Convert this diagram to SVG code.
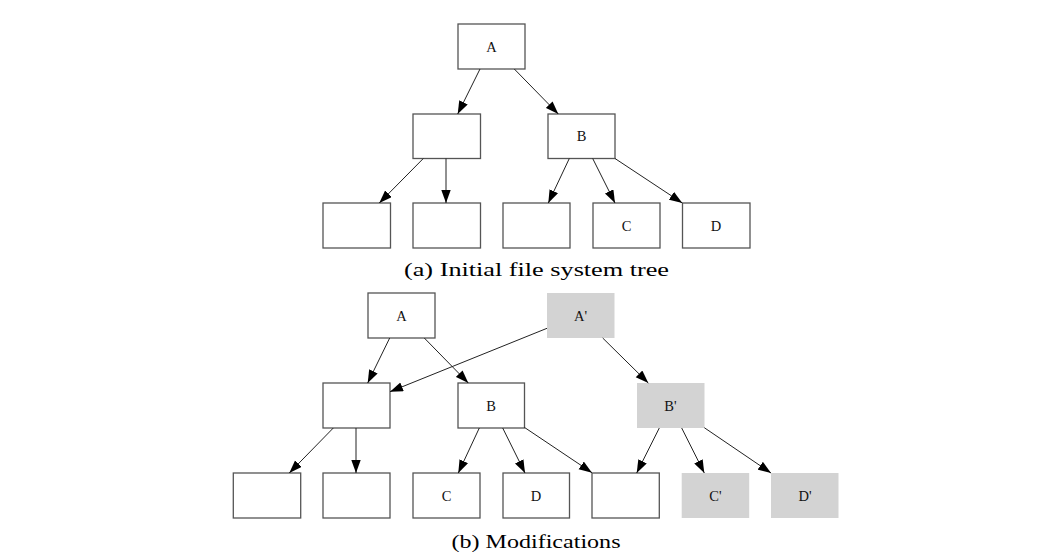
<svg xmlns="http://www.w3.org/2000/svg" width="1064" height="558" viewBox="0 0 1064 558">
<style>
.n{fill:#fff;stroke:#555;stroke-width:1.3}
.g{fill:#d3d3d3;stroke:none}
.t{font-family:"Liberation Serif","Times New Roman",serif;font-size:14.5px;fill:#111;text-anchor:middle}
.cap{font-family:"Liberation Serif","Times New Roman",serif;font-size:19.5px;fill:#000;text-anchor:middle}
#edges line{stroke:#222;stroke-width:1;marker-end:url(#ah)}
</style>
<defs>
<marker id="ah" markerUnits="userSpaceOnUse" markerWidth="14" markerHeight="10" refX="13" refY="4.7" orient="auto">
<path d="M0,0 L13,4.7 L0,9.4 z" fill="#000"/>
</marker>
</defs>
<rect width="1064" height="558" fill="#fff"/>

<!-- (a) -->
<g id="a_A"><rect class="n" x="458" y="24" width="67" height="45"/><text class="t" x="491.5" y="51.5">A</text></g>
<g id="a_L"><rect class="n" x="413" y="114" width="67.5" height="44.5"/></g>
<g id="a_B"><rect class="n" x="548" y="114" width="67" height="44.5"/><text class="t" x="581.5" y="141">B</text></g>
<g id="a_b1"><rect class="n" x="323" y="203" width="67.5" height="45"/></g>
<g id="a_b2"><rect class="n" x="413" y="203" width="67.5" height="45"/></g>
<g id="a_b3"><rect class="n" x="503" y="203" width="67" height="45"/></g>
<g id="a_C"><rect class="n" x="593" y="203" width="67" height="45"/><text class="t" x="626.5" y="230.5">C</text></g>
<g id="a_D"><rect class="n" x="682.5" y="203" width="67.5" height="45"/><text class="t" x="716" y="230.5">D</text></g>
<text id="cap_a" class="cap" x="536.5" y="275.5" textLength="265" lengthAdjust="spacingAndGlyphs">(a) Initial file system tree</text>

<!-- (b) -->
<g id="b_A"><rect class="n" x="368" y="293" width="67" height="45"/><text class="t" x="401.5" y="320.5">A</text></g>
<g id="b_Ap"><rect class="g" x="547" y="293" width="67.5" height="45"/><text class="t" x="580.5" y="320.5">A'</text></g>
<g id="b_L"><rect class="n" x="323" y="383" width="67" height="45"/></g>
<g id="b_B"><rect class="n" x="458" y="383" width="66.5" height="45"/><text class="t" x="491" y="410.5">B</text></g>
<g id="b_Bp"><rect class="g" x="637" y="383" width="67.5" height="45"/><text class="t" x="670.5" y="410.5">B'</text></g>
<g id="b_b1"><rect class="n" x="233.3" y="473" width="67.4" height="45"/></g>
<g id="b_b2"><rect class="n" x="323" y="473" width="67" height="45"/></g>
<g id="b_C"><rect class="n" x="413" y="473" width="67" height="45"/><text class="t" x="446.5" y="500.5">C</text></g>
<g id="b_D"><rect class="n" x="503" y="473" width="66.5" height="45"/><text class="t" x="536" y="500.5">D</text></g>
<g id="b_b5"><rect class="n" x="592" y="473" width="67.3" height="45"/></g>
<g id="b_Cp"><rect class="g" x="681.7" y="473" width="67.5" height="45"/><text class="t" x="715.5" y="500.5">C'</text></g>
<g id="b_Dp"><rect class="g" x="771" y="473" width="67.5" height="45"/><text class="t" x="805" y="500.5">D'</text></g>
<text id="cap_b" class="cap" x="536" y="547.5" textLength="169" lengthAdjust="spacingAndGlyphs">(b) Modifications</text>

<g id="edges">
<line x1="480" y1="69" x2="457.7" y2="114"/>
<line x1="514.3" y1="69" x2="558.3" y2="114"/>
<line x1="423.3" y1="158.5" x2="379.3" y2="203"/>
<line x1="446" y1="158.5" x2="446" y2="203"/>
<line x1="569.3" y1="158.5" x2="548.3" y2="203"/>
<line x1="592.7" y1="158.5" x2="615" y2="203"/>
<line x1="615" y1="158.5" x2="682.3" y2="203"/>

<line x1="389.7" y1="338" x2="367.7" y2="383"/>
<line x1="424.3" y1="338" x2="468.3" y2="383"/>
<line x1="547" y1="328.3" x2="390" y2="391.7"/>
<line x1="333.3" y1="428" x2="289.3" y2="473"/>
<line x1="356" y1="428" x2="356" y2="473"/>
<line x1="479.3" y1="428" x2="458.3" y2="473"/>
<line x1="502.7" y1="428" x2="525" y2="473"/>
<line x1="524.3" y1="427.3" x2="592" y2="472.7"/>
<line x1="602.7" y1="338" x2="648.3" y2="383"/>
<line x1="659.3" y1="428" x2="636.7" y2="473"/>
<line x1="681.7" y1="428" x2="704.3" y2="473"/>
<line x1="704.3" y1="427.7" x2="771" y2="473"/>
</g>
</svg>
